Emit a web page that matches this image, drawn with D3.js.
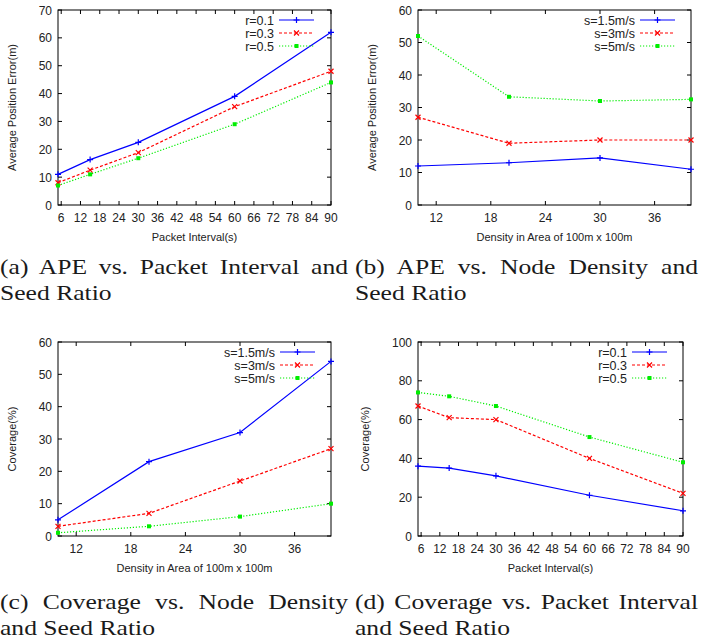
<!DOCTYPE html>
<html>
<head>
<meta charset="utf-8">
<script src="https://cdn.jsdelivr.net/npm/d3@7"></script>
<style>
  body { margin: 0; background: #fff; }
  svg { display: block; }
  .tick-label { font-family: "Liberation Sans", Arial, sans-serif; font-size: 12px; fill: #222; }
  .axis-title { font-family: "Liberation Sans", Arial, sans-serif; font-size: 11px; fill: #222; }
  .legend-text { font-family: "Liberation Sans", Arial, sans-serif; font-size: 12.5px; fill: #222; }
  .caption { font-family: "Liberation Serif", "DejaVu Serif", serif; font-size: 21px; fill: #1a1a1a; }
</style>
</head>
<body>
<div id="chart-container"></div>
<script>
// x values
const intervalX = [5, 15, 30, 60, 90]
const densityX = [10, 20, 30, 40]

// tick labels
const intervalTicks = [6, 12, 18, 24, 30, 36, 42, 48, 54, 60, 66, 72, 78, 84, 90]
const densityTicks = [12, 18, 24, 30, 36]

// series names
const seedNames = ['r=0.1', 'r=0.3', 'r=0.5']
const speedNames = ['s=1.5m/s', 's=3m/s', 's=5m/s']

// (a) APE vs packet interval
const apeIntR01 = [11, 16.3, 22.5, 39, 62]
const apeIntR03 = [8, 12.5, 18.8, 35.3, 48]
const apeIntR05 = [7, 11, 16.8, 29, 44]

// (b) APE vs node density
const apeDenS15 = [12, 13, 14.5, 11]
const apeDenS3 = [27, 19, 20, 20]
const apeDenS5 = [52, 33.3, 32, 32.5]

// (c) coverage vs node density
const covDenS15 = [5, 23, 32, 54]
const covDenS3 = [3, 7, 17, 27]
const covDenS5 = [1, 3, 6, 10]

// (d) coverage vs packet interval
const covIntR01 = [36, 35, 31, 21, 13]
const covIntR03 = [67, 61, 60, 40, 22]
const covIntR05 = [74, 72, 67, 51, 38]

const styles = [
    {color: '#0000ff', dash: null, marker: 'plus'},
    {color: '#ff0000', dash: '3,2', marker: 'cross'},
    {color: '#00ee00', dash: '1.2,1.8', marker: 'square'}
]

const W = 701, H = 643
const svg = d3.select('#chart-container').append('svg')
    .attr('width', W).attr('height', H)

function marker(g, type, x, y, color) {
    if (type === 'square') {
        g.append('rect').attr('x', x - 2).attr('y', y - 2)
            .attr('width', 4).attr('height', 4).attr('fill', color)
    } else {
        const d = type === 'plus'
            ? `M${x-3},${y}H${x+3}M${x},${y-3}V${y+3}`
            : `M${x-2.5},${y-2.5}L${x+2.5},${y+2.5}M${x-2.5},${y+2.5}L${x+2.5},${y-2.5}`
        g.append('path').attr('d', d).attr('stroke', color).attr('stroke-width', 1.2).attr('fill', 'none')
    }
}

function drawPanel(p) {
    const g = svg.append('g')
    const x = d3.scaleLinear().domain(p.xDomain).range([p.left, p.right])
    const y = d3.scaleLinear().domain(p.yDomain).range([p.bottom, p.top])

    // inward ticks on all sides
    const tl = 4
    p.xTicks.forEach(t => {
        g.append('line').attr('x1', x(t)).attr('x2', x(t)).attr('y1', p.bottom).attr('y2', p.bottom - tl).attr('stroke', '#000')
        g.append('line').attr('x1', x(t)).attr('x2', x(t)).attr('y1', p.top).attr('y2', p.top + tl).attr('stroke', '#000')
        g.append('text').attr('class', 'tick-label')
            .attr('x', x(t)).attr('y', p.bottom + 17).attr('text-anchor', 'middle').text(t)
    })
    p.yTicks.forEach(t => {
        g.append('line').attr('x1', p.left).attr('x2', p.left + tl).attr('y1', y(t)).attr('y2', y(t)).attr('stroke', '#000')
        g.append('line').attr('x1', p.right).attr('x2', p.right - tl).attr('y1', y(t)).attr('y2', y(t)).attr('stroke', '#000')
        g.append('text').attr('class', 'tick-label')
            .attr('x', p.left - 6).attr('y', y(t) + 4.5).attr('text-anchor', 'end').text(t)
    })

    g.append('rect').attr('x', p.left).attr('y', p.top)
        .attr('width', p.right - p.left).attr('height', p.bottom - p.top)
        .attr('fill', 'none').attr('stroke', '#000').attr('stroke-width', 1)

    g.append('text').attr('class', 'axis-title')
        .attr('x', (p.left + p.right) / 2).attr('y', p.bottom + 36)
        .attr('text-anchor', 'middle').text(p.xTitle)
    g.append('text').attr('class', 'axis-title')
        .attr('transform', `translate(${p.yTitleX},${(p.top + p.bottom) / 2}) rotate(-90)`)
        .attr('text-anchor', 'middle').text(p.yTitle)

    const line = d3.line().x(d => x(d[0])).y(d => y(d[1]))
    p.series.forEach((vals, i) => {
        const st = styles[i]
        const pts = p.xs.map((xv, j) => [xv, vals[j]])
        g.append('path').datum(pts).attr('d', line)
            .attr('fill', 'none').attr('stroke', st.color).attr('stroke-width', 1.2)
            .attr('stroke-dasharray', st.dash)
        pts.forEach(d => marker(g, st.marker, x(d[0]), y(d[1]), st.color))

        // legend
        const ly = p.top + 10 + i * 13
        g.append('text').attr('class', 'legend-text')
            .attr('x', p.legendX).attr('y', ly + 4.5).attr('text-anchor', 'end').text(p.names[i])
        g.append('line').attr('x1', p.legendX + 5).attr('x2', p.legendX + 40)
            .attr('y1', ly).attr('y2', ly)
            .attr('stroke', st.color).attr('stroke-width', 1.2).attr('stroke-dasharray', st.dash)
        marker(g, st.marker, p.legendX + 22.5, ly, st.color)
    })
}

// captions: glyphs widened a little to mimic Computer Modern, first line justified
const capScale = 1.22
function caption(x0, width, y0, lines) {
    lines.forEach((txt, i) => {
        const t = svg.append('g')
            .attr('transform', `translate(${x0},${y0 + i * 26}) scale(${capScale},1)`)
            .append('text').attr('class', 'caption').attr('x', 0).attr('y', 0).text(txt)
        if (i === 0) {
            const target = width / capScale
            const w = t.node().getComputedTextLength()
            const gaps = txt.split(' ').length - 1
            if (gaps > 0 && w < target) t.attr('word-spacing', (target - w) / gaps)
        }
    })
}

drawPanel({
    left: 58, right: 331, top: 10, bottom: 205,
    xDomain: [5, 90], yDomain: [0, 70],
    xTicks: intervalTicks, yTicks: d3.range(0, 71, 10),
    xs: intervalX, series: [apeIntR01, apeIntR03, apeIntR05], names: seedNames,
    xTitle: 'Packet Interval(s)', yTitle: 'Average Position Error(m)', yTitleX: 16,
    legendX: 274
})
drawPanel({
    left: 418, right: 691, top: 10, bottom: 205,
    xDomain: [10, 40], yDomain: [0, 60],
    xTicks: densityTicks, yTicks: d3.range(0, 61, 10),
    xs: densityX, series: [apeDenS15, apeDenS3, apeDenS5], names: speedNames,
    xTitle: 'Density in Area of 100m x 100m', yTitle: 'Average Position Error(m)', yTitleX: 376,
    legendX: 635
})
drawPanel({
    left: 58, right: 331, top: 342, bottom: 536,
    xDomain: [10, 40], yDomain: [0, 60],
    xTicks: densityTicks, yTicks: d3.range(0, 61, 10),
    xs: densityX, series: [covDenS15, covDenS3, covDenS5], names: speedNames,
    xTitle: 'Density in Area of 100m x 100m', yTitle: 'Coverage(%)', yTitleX: 16,
    legendX: 275
})
drawPanel({
    left: 418, right: 683, top: 342, bottom: 536,
    xDomain: [5, 90], yDomain: [0, 100],
    xTicks: intervalTicks, yTicks: d3.range(0, 101, 20),
    xs: intervalX, series: [covIntR01, covIntR03, covIntR05], names: seedNames,
    xTitle: 'Packet Interval(s)', yTitle: 'Coverage(%)', yTitleX: 369,
    legendX: 627
})

caption(0, 348, 274, ['(a) APE vs. Packet Interval and', 'Seed Ratio'])
caption(355, 343, 274, ['(b) APE vs. Node Density and', 'Seed Ratio'])
caption(0, 348, 609, ['(c) Coverage vs. Node Density', 'and Seed Ratio'])
caption(355, 343, 609, ['(d) Coverage vs. Packet Interval', 'and Seed Ratio'])
</script>
</body>
</html>
